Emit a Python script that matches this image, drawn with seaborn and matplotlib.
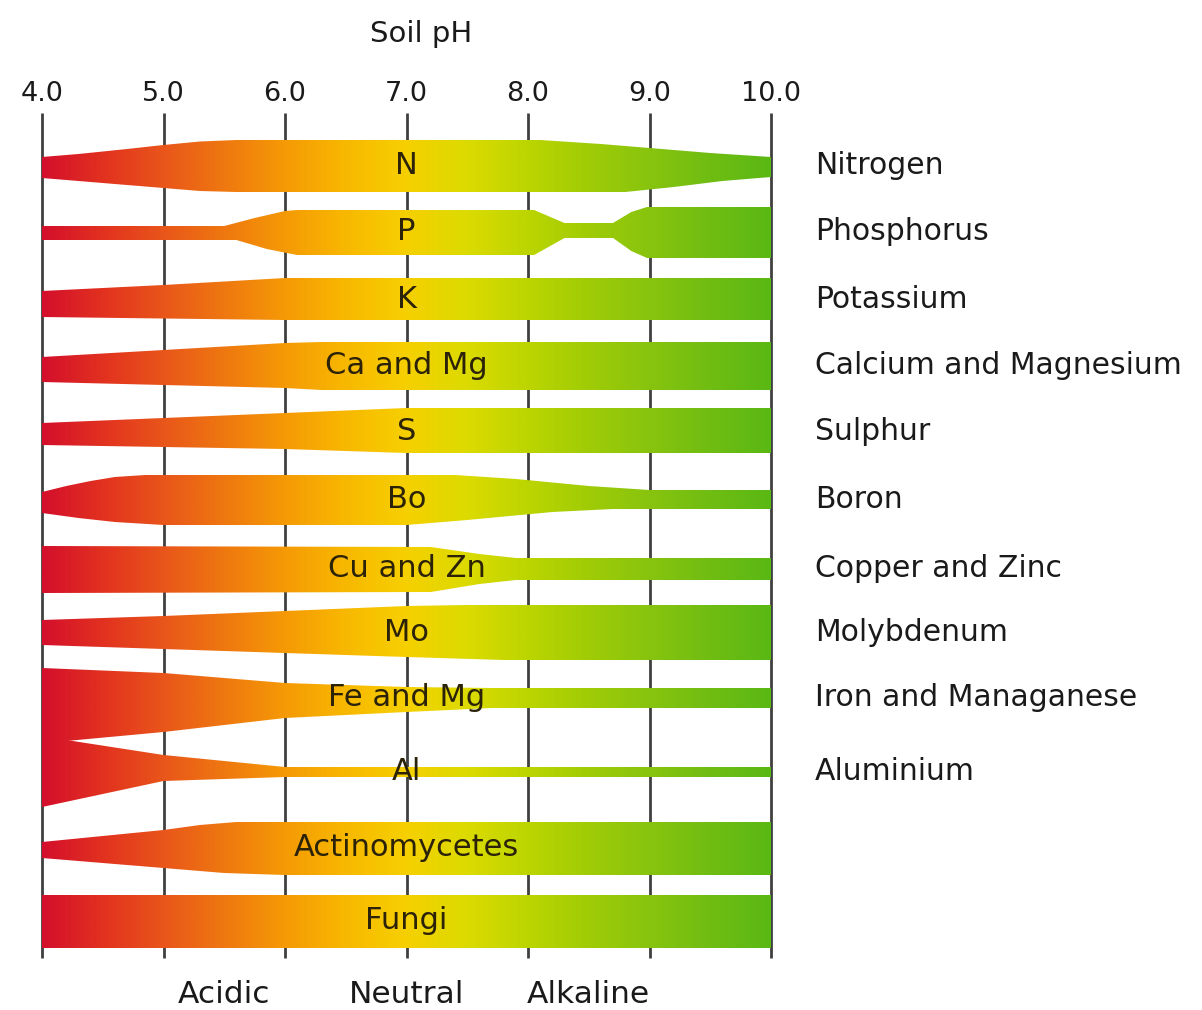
import numpy as np
import matplotlib
matplotlib.use('Agg')
import matplotlib.pyplot as plt
import seaborn as sns

# axis / labels
ph_ticks = [4.0, 5.0, 6.0, 7.0, 8.0, 9.0, 10.0]
band_labels = ['N', 'P', 'K', 'Ca and Mg', 'S', 'Bo', 'Cu and Zn', 'Mo',
               'Fe and Mg', 'Al', 'Actinomycetes', 'Fungi']
side_labels = ['Nitrogen', 'Phosphorus', 'Potassium', 'Calcium and Magnesium',
               'Sulphur', 'Boron', 'Copper and Zinc', 'Molybdenum',
               'Iron and Managanese', 'Aluminium', '', '']
zones = ['Acidic', 'Neutral', 'Alkaline']
zone_ph = [5.5, 7.0, 8.5]

# availability band: (pH, half width above) and (pH, half width below)
n_top = [(4.0, 9), (4.3, 12), (4.7, 17), (5.0, 21), (5.3, 24.5), (5.6, 26), (8.1, 26),
         (8.6, 22), (9.0, 18), (9.5, 13), (10.0, 9)]
n_bot = [(4.0, 12), (4.5, 17), (5.0, 22), (5.3, 25), (5.6, 26), (8.8, 26), (9.2, 21),
         (9.6, 15), (10.0, 11)]
p_top = [(4.0, 6), (5.5, 6), (5.75, 14), (6.0, 21), (6.1, 22), (8.05, 22), (8.3, 9),
         (8.7, 9), (8.85, 20), (8.98, 25), (10.0, 25)]
p_bot = [(4.0, 8), (5.6, 8), (5.85, 17), (6.1, 23), (8.05, 23), (8.3, 6), (8.7, 6),
         (8.85, 19), (8.98, 26), (10.0, 26)]
k_top = [(4.0, 8), (5.0, 14), (6.0, 21), (10.0, 21)]
k_bot = [(4.0, 18), (6.0, 21), (10.0, 21)]
ca_top = [(4.0, 9), (5.0, 16), (6.0, 23), (6.3, 24), (10.0, 24)]
ca_bot = [(4.0, 16), (5.0, 19), (6.0, 22), (6.3, 24), (10.0, 24)]
s_top = [(4.0, 8), (5.0, 13), (6.0, 18), (7.0, 23), (10.0, 23)]
s_bot = [(4.0, 14), (5.0, 16), (6.0, 18), (7.0, 22), (10.0, 22)]
bo_top = [(4.0, 8), (4.2, 14), (4.4, 19), (4.6, 23), (4.85, 25), (7.4, 25), (7.9, 21),
          (8.5, 14), (9.0, 10), (10.0, 10)]
bo_bot = [(4.0, 13), (4.3, 18), (4.6, 22), (5.0, 25), (7.0, 25), (7.5, 20), (8.2, 12),
          (8.7, 9), (10.0, 9)]
cu_top = [(4.0, 23), (7.2, 22), (7.6, 15), (7.9, 11), (10.0, 11)]
cu_bot = [(4.0, 24), (7.2, 23), (7.6, 15), (7.9, 11), (10.0, 11)]
mo_top = [(4.0, 13), (5.0, 17), (6.0, 22), (7.0, 27), (7.5, 28), (10.0, 28)]
mo_bot = [(4.0, 12), (5.0, 16), (6.0, 20), (7.0, 24), (7.8, 27), (10.0, 27)]
fe_top = [(4.0, 30), (5.0, 25), (6.0, 15), (7.0, 11), (7.7, 10), (10.0, 10)]
fe_bot = [(4.0, 47), (4.2, 43), (5.0, 34), (6.0, 20), (7.0, 14), (7.7, 10), (10.0, 10)]
al_top = [(4.0, 36), (4.2, 32), (5.0, 17), (6.0, 5), (10.0, 5)]
al_bot = [(4.0, 35), (5.0, 9), (6.0, 5), (10.0, 5)]
ac_top = [(4.0, 6), (4.5, 12), (5.0, 18), (5.3, 23), (5.6, 26), (10.0, 26)]
ac_bot = [(4.0, 10), (4.5, 15), (5.0, 20), (5.5, 25), (6.0, 27), (10.0, 27)]
fu_top = [(4.0, 26), (10.0, 26)]
fu_bot = [(4.0, 27), (10.0, 27)]

# layout (figure pixels, axes y runs in pixels)
row_y = [166, 232, 299, 366, 431, 500, 569, 633, 698, 772, 848, 921]
grad_colors = ['#d40f2c', '#e2321f', '#e9561a', '#ef7810', '#f59a05', '#f8b800',
               '#f6d000', '#dcdb00', '#bcd500', '#a0cc06', '#88c40e', '#70bd12', '#5ab814']

bands = [(n_top, n_bot), (p_top, p_bot), (k_top, k_bot), (ca_top, ca_bot),
         (s_top, s_bot), (bo_top, bo_bot), (cu_top, cu_bot), (mo_top, mo_bot),
         (fe_top, fe_bot), (al_top, al_bot), (ac_top, ac_bot), (fu_top, fu_bot)]

sns.set_theme(style='white')
plt.rcParams['font.family'] = ['DejaVu Sans']

fig = plt.figure(figsize=(12.02, 10.10), dpi=100)
ax = fig.add_axes([42 / 1202, 50 / 1010, 729 / 1202, 850 / 1010])

# vertical pH lines behind the bands
ax.vlines(ph_ticks, 958, 113, colors='#404040', linewidth=2.0, zorder=1, clip_on=False)

cmap = sns.blend_palette(grad_colors, as_cmap=True)
grad = np.linspace(0, 1, 512).reshape(1, -1)
for i, (top, bot) in enumerate(bands):
    yc = row_y[i]
    xs = [p for p, w in top] + [p for p, w in bot[::-1]]
    ys = [yc - w for p, w in top] + [yc + w for p, w in bot[::-1]]
    poly, = ax.fill(xs, ys, facecolor='none', edgecolor='none', zorder=2)
    im = ax.imshow(grad, cmap=cmap, aspect='auto', extent=[4, 10, 960, 110],
                   interpolation='bilinear', zorder=2)
    im.set_clip_path(poly)
    ax.text(7.0, yc, band_labels[i], ha='center', va='center', fontsize=22,
            color='#2b2208', zorder=3)
    if side_labels[i]:
        ax.text(10.362, yc, side_labels[i], ha='left', va='center', fontsize=21.5,
                color='#1a1a1a', clip_on=False)

for name, p in zip(zones, zone_ph):
    ax.text(p, 995, name, ha='center', va='center', fontsize=22.5, color='#1a1a1a',
            clip_on=False)

ax.set_xlim(4, 10)
ax.set_ylim(960, 110)
ax.set_xticks(ph_ticks)
ax.set_xticklabels([f'{t:.1f}' for t in ph_ticks])
ax.xaxis.set_ticks_position('top')
ax.tick_params(axis='x', length=0, pad=2, labelsize=19.5, labelcolor='#1a1a1a')
ax.set_yticks([])
ax.set_xlabel('Soil pH', fontsize=21, color='#1a1a1a')
ax.xaxis.set_label_position('top')
ax.xaxis.set_label_coords((421 - 42) / 729, (960 - 42) / 850)
for s in ax.spines.values():
    s.set_visible(False)
ax.grid(False)

fig.savefig('out.png', dpi=100, facecolor='white')
